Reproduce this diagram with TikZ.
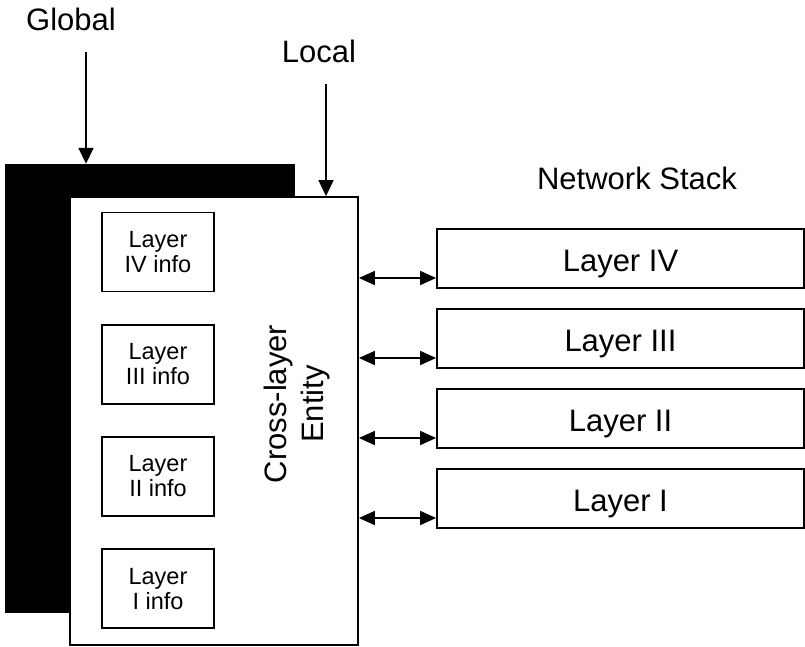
\documentclass[tikz,border=0pt]{standalone}
\usepackage{fontspec}
\setmainfont{Liberation Sans}
\usetikzlibrary{arrows.meta}
\begin{document}
\begin{tikzpicture}[x=1pt,y=-1pt,
  every node/.style={inner sep=0pt},
  big/.style={font=\fontsize{31}{37}\selectfont},
  small/.style={font=\fontsize{23.5}{25}\selectfont},
  frame/.style={draw, line width=1.8pt, rectangle},
  infobox/.style={frame, minimum width=112pt, minimum height=79pt, small, align=center},
  layerbox/.style={frame, minimum width=367pt, minimum height=59pt, big, text height=25pt, text depth=0pt},
  link/.style={line width=1.8pt, {Triangle[length=16pt,width=14pt]}-{Triangle[length=16pt,width=14pt]}},
  feed/.style={line width=1.8pt, -{Triangle[length=16pt,width=15pt]}}
]
\useasboundingbox (0,0) rectangle (805,646);

% global panel lying behind the entity
\node[fill=black, minimum width=290pt, minimum height=449pt] (gbox) at (150,388.5) {};
% the cross-layer entity itself
\node[frame, fill=white, minimum width=288pt, minimum height=448pt] (ent) at (214,421) {};

% per-layer information kept by the entity
\node[infobox] (i4) at (158,252)   {Layer\\IV info};
\node[infobox] (i3) at (158,364.2) {Layer\\III info};
\node[infobox] (i2) at (158,476.4) {Layer\\II info};
\node[infobox] (i1) at (158,588.6) {Layer\\I info};

\node[big, align=center, rotate=90] (entlabel) at (297,404) {Cross-layer\\Entity};

% network stack
\node[big, anchor=base] (stack) at (637,189) {Network Stack};
\node[layerbox] (L4) at (620.5,258.5) {Layer IV};
\node[layerbox] (L3) at (620.5,338.5) {Layer III};
\node[layerbox] (L2) at (620.5,418.5) {Layer II};
\node[layerbox] (L1) at (620.5,498.5) {Layer I};

% two-way links between entity and layers
\coordinate (a4) at (400,278);
\coordinate (a3) at (400,358);
\coordinate (a2) at (400,438);
\coordinate (a1) at (400,518);
\draw[link] (ent.east |- a4) -- (L4.west |- a4);
\draw[link] (ent.east |- a3) -- (L3.west |- a3);
\draw[link] (ent.east |- a2) -- (L2.west |- a2);
\draw[link] (ent.east |- a1) -- (L1.west |- a1);

% global and local inputs
\node[big, anchor=base] (glabel) at (71,30) {Global};
\node[big, anchor=base] (llabel) at (319,62) {Local};
\coordinate (gtail) at (86,52);
\coordinate (ltail) at (326,84);
\draw[feed] (gtail) -- (gbox.north -| gtail);
\draw[feed] (ltail) -- (ent.north -| ltail);
\end{tikzpicture}
\end{document}
